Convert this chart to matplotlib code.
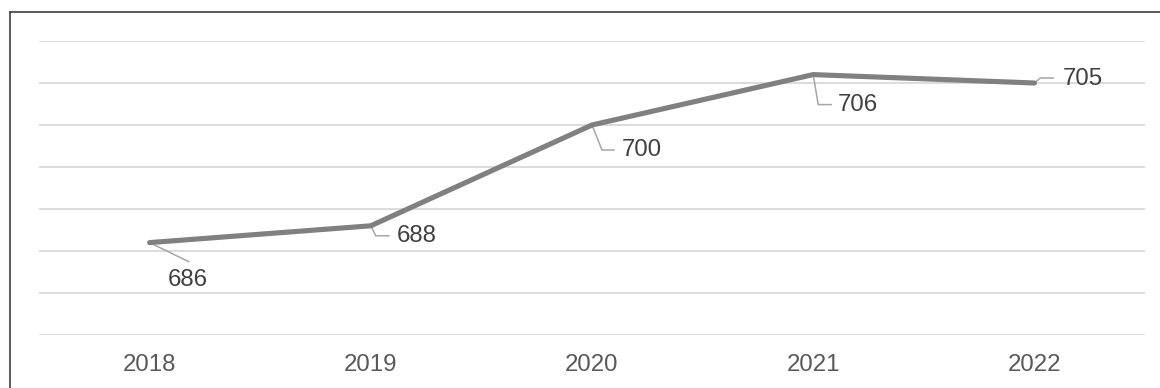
import matplotlib
matplotlib.use("Agg")
import matplotlib.pyplot as plt
from matplotlib.lines import Line2D
from matplotlib.transforms import Affine2D

plt.rcParams['font.family'] = ['Liberation Sans', 'DejaVu Sans']

years = ["2018", "2019", "2020", "2021", "2022"]
values = [686, 688, 700, 706, 705]
labels = ["686", "688", "700", "706", "705"]

# label placement (pixel offsets from point, y downward): leader polyline, text anchor
leaders = [
    [(0, 0), (39, 19)],
    [(0, 0), (5, 10), (18, 10)],
    [(0, 0), (10, 25), (22, 25)],
    [(0, 0), (5, 30), (18, 30)],
    [(0, 0), (6, -5), (19, -5)],
]
text_pos = [(38, 37, 'center'), (26, 10, 'left'), (30, 25, 'left'), (25, 30, 'left'), (28, -4, 'left')]

W, H = 1160, 388
fig = plt.figure(figsize=(W / 100, H / 100), dpi=100)
fig.patch.set_facecolor('white')

# frame (left and top only)
fig.add_artist(Line2D([9.5 / W, 9.5 / W], [0, 1 - 12 / H], transform=fig.transFigure, color='#404040', lw=1.2))
fig.add_artist(Line2D([9.5 / W, 1], [1 - 12 / H, 1 - 12 / H], transform=fig.transFigure, color='#404040', lw=1.2))

left, right, top, bottom = 39, 1145, 41, 335
ax = fig.add_axes([left / W, 1 - bottom / H, (right - left) / W, (bottom - top) / H])
ax.set_xlim(-0.5, len(years) - 0.5)
ax.set_ylim(675, 710)
ax.set_yticks(range(675, 711, 5))
ax.yaxis.grid(True, color='#d9d9d9', lw=1.3)
ax.set_axisbelow(True)
for s in ax.spines.values():
    s.set_visible(False)
ax.tick_params(axis='y', left=False, labelleft=False)
ax.tick_params(axis='x', bottom=False, labelsize=17.3, labelcolor='#595959', pad=10.5)
x = list(range(len(years)))
ax.set_xticks(x)
ax.set_xticklabels(years)

ax.plot(x, values, color='#808080', lw=3.7, solid_capstyle='round', solid_joinstyle='round', zorder=3)

fig.canvas.draw()
for i, (xi, v) in enumerate(zip(x, values)):
    px, py = ax.transData.transform((xi, v))
    tr = Affine2D().translate(px, py)
    pts = leaders[i]
    ax.add_line(Line2D([p[0] for p in pts], [-p[1] for p in pts], transform=tr,
                       color='#a6a6a6', lw=1.1, zorder=2, clip_on=False))
    tx, ty, ha = text_pos[i]
    ax.text(tx, -ty, labels[i], transform=tr, ha=ha, va='center', fontsize=17.3,
            color='#404040', zorder=4)

fig.savefig('out.png', dpi=100, facecolor='white')
